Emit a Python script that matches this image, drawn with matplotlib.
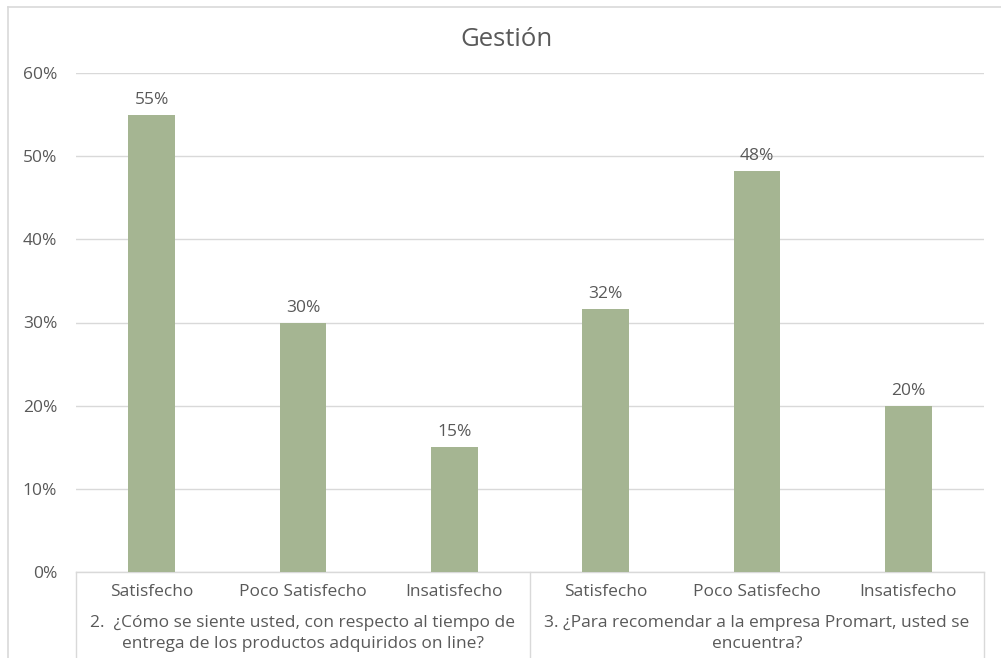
import matplotlib.pyplot as plt
from matplotlib.lines import Line2D
from matplotlib.ticker import PercentFormatter

plt.rcParams['font.family'] = ['Open Sans', 'DejaVu Sans']

categories = ['Satisfecho', 'Poco Satisfecho', 'Insatisfecho',
              'Satisfecho', 'Poco Satisfecho', 'Insatisfecho']
values = [0.55, 0.30, 0.15, 0.316, 0.482, 0.20]
groups = ['2.  ¿Cómo se siente usted, con respecto al tiempo de\nentrega de los productos adquiridos on line?',
          '3. ¿Para recomendar a la empresa Promart, usted se\nencuentra?']
group_size = 3
yticks = [0, 0.1, 0.2, 0.3, 0.4, 0.5, 0.6]

W, H = 1001, 658
text_col = '#595959'
grid_col = '#D9D9D9'
bar_col = '#A5B592'
fs = 12.5

fig = plt.figure(figsize=(W / 100, H / 100), dpi=100)
ax = fig.add_axes([76 / W, (H - 572) / H, (984 - 76) / W, (572 - 73) / H])

x = list(range(len(categories)))
bars = ax.bar(x, values, width=0.31, color=bar_col, zorder=3)
for b, v in zip(bars, values):
    ax.annotate(f'{v:.0%}', (b.get_x() + b.get_width() / 2, v),
                xytext=(0, 5), textcoords='offset points',
                ha='center', va='bottom', fontsize=fs, color=text_col)

ax.set_xlim(-0.5, len(categories) - 0.5)
ax.set_ylim(0, 0.6)
ax.set_yticks(yticks)
ax.yaxis.set_major_formatter(PercentFormatter(1.0, decimals=0))
ax.tick_params(axis='y', length=0, pad=13.5, labelsize=fs, labelcolor=text_col)
ax.set_xticks([])
ax.grid(axis='y', color=grid_col, linewidth=1, zorder=0)
for s in ax.spines.values():
    s.set_visible(False)

# two-level category axis
trans = ax.get_xaxis_transform()
ah = 572 - 73
ax.plot([-0.5, len(categories) - 0.5], [0, 0], color=grid_col, lw=1,
        transform=trans, clip_on=False, zorder=2)
y_bot = -(H - 572) / ah
for sep in range(0, len(categories) + 1, group_size):
    ax.plot([sep - 0.5, sep - 0.5], [0, y_bot], color=grid_col, lw=1,
            transform=trans, clip_on=False)
for i, c in enumerate(categories):
    ax.text(i, -20 / ah, c, transform=trans, ha='center', va='center',
            fontsize=fs, color=text_col)
for g, label in enumerate(groups):
    xc = g * group_size + (group_size - 1) / 2
    ax.text(xc, -43 / ah, label, transform=trans, ha='center', va='top',
            fontsize=fs, color=text_col, linespacing=1.4)

# chart border
fig.add_artist(Line2D([8 / W, 8 / W], [0, 1 - 7 / H], color=grid_col, lw=1.2))
fig.add_artist(Line2D([8 / W, 1], [1 - 7 / H, 1 - 7 / H], color=grid_col, lw=1.2))

fig.text(507 / W, 1 - 39 / H, 'Gestión', ha='center', va='center',
         fontsize=18.5, color=text_col)

fig.savefig('out.png', dpi=100)
